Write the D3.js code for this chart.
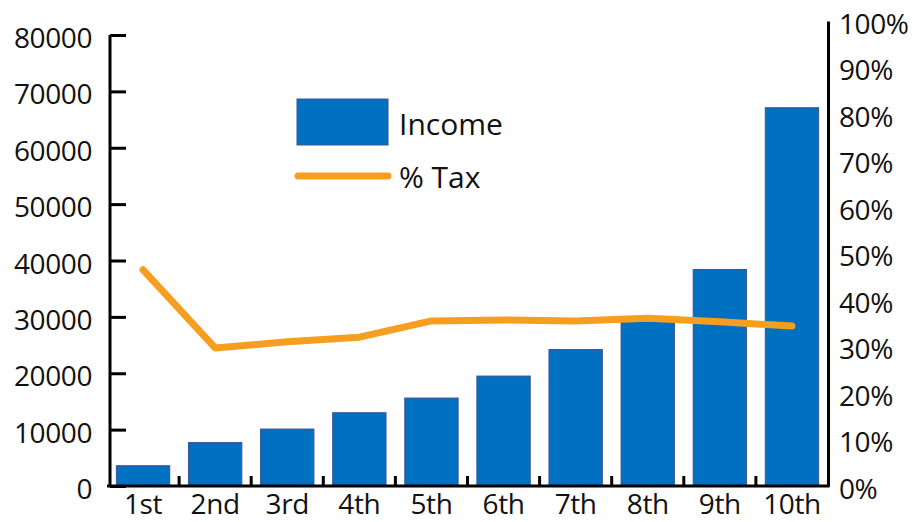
<!DOCTYPE html>
<html>
<head>
<meta charset="utf-8">
<script src="https://cdn.jsdelivr.net/npm/d3@7"></script>
<style>
  body { margin: 0; background: #fff; }
  text { font-family: "Open Sans", "Noto Sans", sans-serif; fill: #111; }
</style>
</head>
<body>
<svg id="chart" width="920" height="522"></svg>
<script>
// deciles of income and the share paid as tax
var deciles = ["1st", "2nd", "3rd", "4th", "5th", "6th", "7th", "8th", "9th", "10th"]
var income = [3600, 7700, 10100, 13000, 15600, 19500, 24200, 29500, 38400, 67100]
var taxPct = [0.465, 0.297, 0.31, 0.32, 0.355, 0.357, 0.355, 0.361, 0.353, 0.344]
var leftTicks = [0, 10000, 20000, 30000, 40000, 50000, 60000, 70000, 80000]
var rightTicks = [0, 0.1, 0.2, 0.3, 0.4, 0.5, 0.6, 0.7, 0.8, 0.9, 1]

var svg = d3.select("#chart")
var x0 = 107, x1 = 828, yBase = 486

var x = d3.scaleBand().domain(deciles).range([x0, x1]).paddingInner(0.26).paddingOuter(0.13)
var band = d3.scaleBand().domain(deciles).range([x0, x1])
var yL = d3.scaleLinear().domain([0, 80000]).range([yBase, 35])
var yR = d3.scaleLinear().domain([0, 1]).range([yBase, 21])

// bars
svg.selectAll(".bar")
  .data(income)
  .enter().append("rect")
  .attr("class", "bar")
  .attr("x", function(d, i) { return x(deciles[i]) })
  .attr("y", function(d) { return yL(d) })
  .attr("width", x.bandwidth())
  .attr("height", function(d) { return yBase - yL(d) })
  .attr("fill", "#0070c0")
  .attr("stroke", "#3f5296")
  .attr("stroke-width", 1)

// left axis
var gL = svg.append("g").attr("transform", "translate(110,0)")
gL.call(d3.axisRight(yL).tickValues(leftTicks).tickSize(16).tickFormat(""))
gL.select(".domain").attr("d", "M0," + yL(80000) + "V" + yBase)
gL.selectAll("path, line").attr("stroke", "#000").attr("stroke-width", 3)
svg.selectAll(".lt")
  .data(leftTicks)
  .enter().append("text")
  .attr("class", "lt")
  .attr("x", 92)
  .attr("y", function(d) { return yL(d) + 3 })
  .attr("dy", "0.36em")
  .attr("text-anchor", "end")
  .style("font-size", "28px")
  .style("letter-spacing", "-0.4px")
  .text(function(d) { return d })

// right axis (line only)
var gR = svg.append("g").attr("transform", "translate(" + x1 + ",0)")
gR.call(d3.axisRight(yR).tickValues([]).tickSizeOuter(0))
gR.select(".domain").attr("stroke", "#000").attr("stroke-width", 3)
svg.selectAll(".rt")
  .data(rightTicks)
  .enter().append("text")
  .attr("class", "rt")
  .attr("x", 839)
  .attr("y", function(d) { return yR(d) + 2.5 })
  .attr("dy", "0.36em")
  .style("font-size", "28px")
  .style("letter-spacing", "-0.4px")
  .text(function(d) { return d3.format(".0%")(d) })

// bottom axis with ticks between categories
var gB = svg.append("g").attr("transform", "translate(0," + yBase + ")")
gB.append("line").attr("x1", x0).attr("x2", x1 + 1.5).attr("stroke", "#000").attr("stroke-width", 3)
gB.selectAll(".bt")
  .data(deciles.slice(1))
  .enter().append("line")
  .attr("x1", function(d) { return band(d) })
  .attr("x2", function(d) { return band(d) })
  .attr("y1", 0).attr("y2", -10)
  .attr("stroke", "#000").attr("stroke-width", 3)
svg.selectAll(".cl")
  .data(deciles)
  .enter().append("text")
  .attr("class", "cl")
  .attr("x", function(d) { return band(d) + band.bandwidth() / 2 })
  .attr("y", 514)
  .attr("text-anchor", "middle")
  .style("font-size", "28px")
  .style("letter-spacing", "-0.4px")
  .text(function(d) { return d })

// tax line
var line = d3.line()
  .x(function(d, i) { return band(deciles[i]) + band.bandwidth() / 2 })
  .y(function(d) { return yR(d) })
svg.append("path")
  .datum(taxPct)
  .attr("d", line)
  .attr("fill", "none")
  .attr("stroke", "#f59e1f")
  .attr("stroke-width", 7)
  .attr("stroke-linecap", "round")
  .attr("stroke-linejoin", "round")

// legend
svg.append("rect")
  .attr("x", 297).attr("y", 99).attr("width", 91).attr("height", 46)
  .attr("fill", "#0070c0").attr("stroke", "#3f5296").attr("stroke-width", 1)
svg.append("text").attr("x", 399).attr("y", 135)
  .style("font-size", "30px").text("Income")
svg.append("line")
  .attr("x1", 298).attr("x2", 388).attr("y1", 176).attr("y2", 176)
  .attr("stroke", "#f59e1f").attr("stroke-width", 7).attr("stroke-linecap", "round")
svg.append("text").attr("x", 399).attr("y", 188)
  .style("font-size", "30px").text("% Tax")
</script>
</body>
</html>
